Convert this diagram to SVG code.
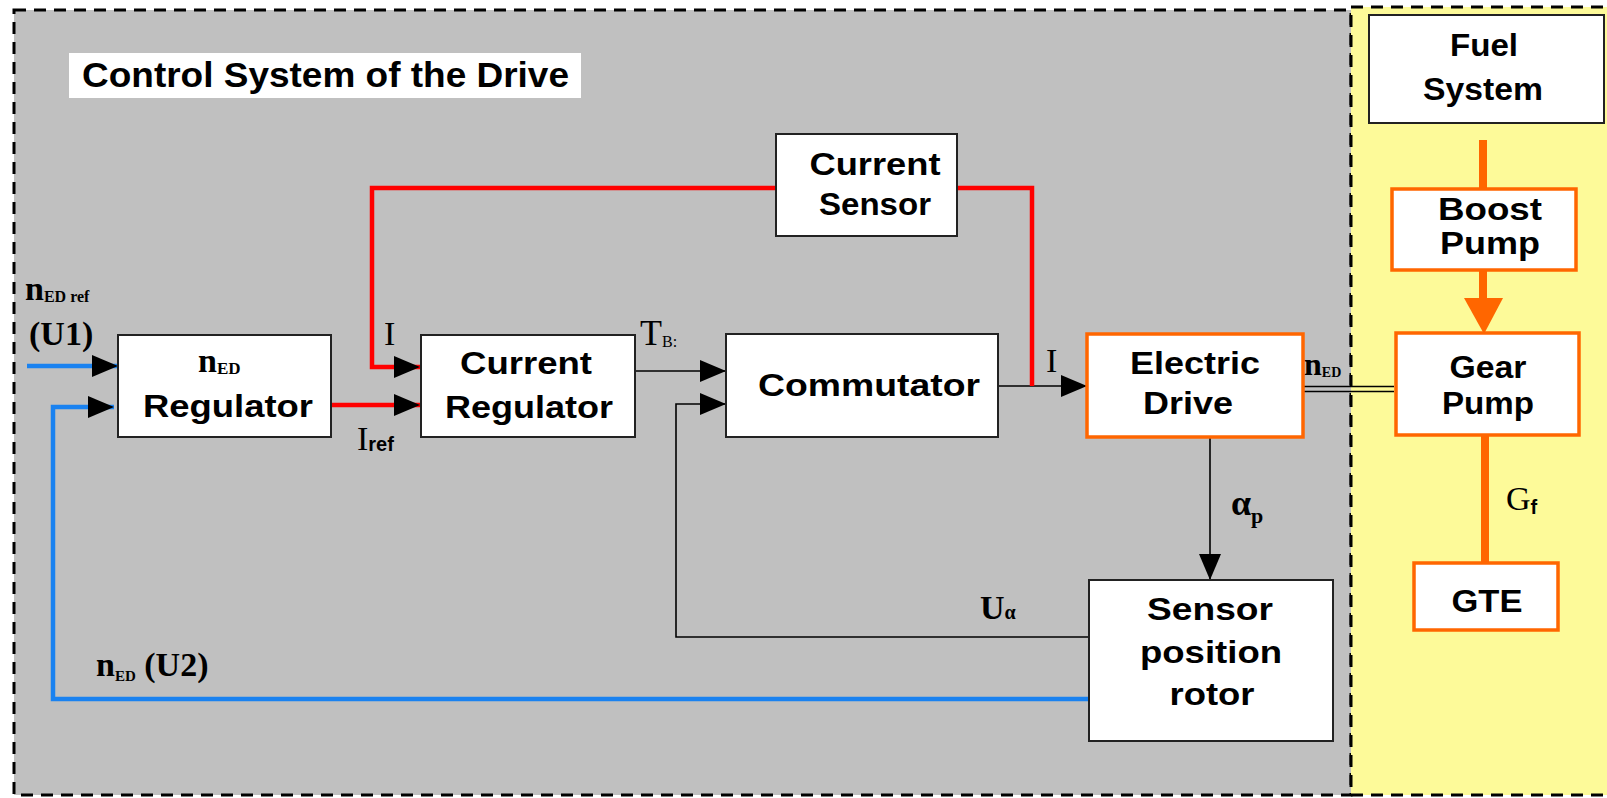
<svg xmlns="http://www.w3.org/2000/svg" width="1607" height="798" viewBox="0 0 1607 798">
<defs>
<style>
.box{fill:#fff;stroke:#222;stroke-width:2}
.obox{fill:#fff;stroke:#ff6600;stroke-width:3.5}
.lbl{font-family:"Liberation Sans",Arial,sans-serif;font-weight:bold;font-size:32px;fill:#000;text-anchor:middle}
.m{font-family:"Liberation Serif","Times New Roman",serif;fill:#000}
.blk{fill:none;stroke:#000;stroke-width:1.6}
.red{fill:none;stroke:#ff0000;stroke-width:4.5}
.blu{fill:none;stroke:#1a82f0;stroke-width:4.5}
.org{fill:none;stroke:#ff6600;stroke-width:8}
</style>
<marker id="ah" markerUnits="userSpaceOnUse" markerWidth="26" markerHeight="22" refX="26" refY="11" orient="auto">
<path d="M0,0 L26,11 L0,22 z" fill="#000"/>
</marker>
</defs>
<rect x="0" y="0" width="1607" height="798" fill="#fff"/>
<rect x="14" y="10" width="1337" height="785" fill="#c0c0c0" stroke="#000" stroke-width="3" stroke-dasharray="12,8"/>
<rect x="1351" y="7" width="262" height="788" fill="#fdfa99" stroke="#000" stroke-width="3" stroke-dasharray="12,8"/>

<g id="title">
<rect x="69" y="53" width="512" height="45" fill="#fff"/>
<text x="82" y="87" font-family="Liberation Sans,Arial,sans-serif" font-weight="bold" font-size="35" textLength="487" lengthAdjust="spacingAndGlyphs">Control System of the Drive</text>
</g>

<g id="connectors">
<path class="blu" d="M27,366 H118" marker-end="url(#ah)"/>
<path class="blu" d="M1089,699 H53 V407 H114" marker-end="url(#ah)"/>
<path class="red" d="M331,405 H420" marker-end="url(#ah)"/>
<path class="red" d="M776,188 H372 V367 H420" marker-end="url(#ah)"/>
<path class="blk" d="M635,371 H726" marker-end="url(#ah)"/>
<path class="blk" d="M1089,637 H676 V404 H726" marker-end="url(#ah)"/>
<path class="blk" d="M998,386 H1087" marker-end="url(#ah)"/>
<path class="red" d="M957,188 H1032 V386"/>
<path class="blk" d="M1210,437 V580" marker-end="url(#ah)"/>
<path class="blk" d="M1303,386.5 H1394 M1303,391.5 H1394" stroke-width="1.8"/>
<path class="org" d="M1483,140 V189"/>
<path class="org" d="M1483,270 V300"/>
<polygon points="1464,298 1503,298 1484,334" fill="#ff6600"/>
<path class="org" d="M1485,435 V563"/>
</g>

<g id="n-regulator">
<rect class="box" x="118" y="335" width="213" height="102"/>
<text class="m" x="198" y="372" font-size="34" font-weight="bold">n<tspan font-size="17" dy="2">ED</tspan></text>
<text class="lbl" x="228" y="417" textLength="170" lengthAdjust="spacingAndGlyphs">Regulator</text>
</g>

<g id="current-regulator">
<rect class="box" x="421" y="335" width="214" height="102"/>
<text class="lbl" x="526" y="374" textLength="132" lengthAdjust="spacingAndGlyphs">Current</text>
<text class="lbl" x="529" y="418" textLength="168" lengthAdjust="spacingAndGlyphs">Regulator</text>
</g>

<g id="commutator">
<rect class="box" x="726" y="334" width="272" height="103"/>
<text class="lbl" x="869" y="396" textLength="222" lengthAdjust="spacingAndGlyphs">Commutator</text>
</g>

<g id="current-sensor">
<rect class="box" x="776" y="134" width="181" height="102"/>
<text class="lbl" x="875" y="175" textLength="131" lengthAdjust="spacingAndGlyphs">Current</text>
<text class="lbl" x="875" y="215" textLength="112" lengthAdjust="spacingAndGlyphs">Sensor</text>
</g>

<g id="electric-drive">
<rect class="obox" x="1087" y="334" width="216" height="103"/>
<text class="lbl" x="1195" y="374" textLength="130" lengthAdjust="spacingAndGlyphs">Electric</text>
<text class="lbl" x="1188" y="414" textLength="90" lengthAdjust="spacingAndGlyphs">Drive</text>
</g>

<g id="sensor-position-rotor">
<rect class="box" x="1089" y="580" width="244" height="161"/>
<text class="lbl" x="1210" y="620" textLength="126" lengthAdjust="spacingAndGlyphs">Sensor</text>
<text class="lbl" x="1211" y="663" textLength="142" lengthAdjust="spacingAndGlyphs">position</text>
<text class="lbl" x="1212" y="705" textLength="85" lengthAdjust="spacingAndGlyphs">rotor</text>
</g>

<g id="fuel-system">
<rect class="box" x="1369" y="15" width="235" height="108"/>
<text class="lbl" x="1484" y="56" textLength="68" lengthAdjust="spacingAndGlyphs">Fuel</text>
<text class="lbl" x="1483" y="100" textLength="120" lengthAdjust="spacingAndGlyphs">System</text>
</g>

<g id="boost-pump">
<rect class="obox" x="1392" y="189" width="184" height="81"/>
<text class="lbl" x="1490" y="220" font-size="29" textLength="104" lengthAdjust="spacingAndGlyphs">Boost</text>
<text class="lbl" x="1490" y="254" font-size="29" textLength="100" lengthAdjust="spacingAndGlyphs">Pump</text>
</g>

<g id="gear-pump">
<rect class="obox" x="1396" y="333" width="183" height="102"/>
<text class="lbl" x="1488" y="378" textLength="77" lengthAdjust="spacingAndGlyphs">Gear</text>
<text class="lbl" x="1488" y="414" textLength="92" lengthAdjust="spacingAndGlyphs">Pump</text>
</g>

<g id="gte">
<rect class="obox" x="1414" y="563" width="144" height="67"/>
<text class="lbl" x="1487" y="612" textLength="71" lengthAdjust="spacingAndGlyphs">GTE</text>
</g>

<g id="labels">
<text class="m" x="25" y="300" font-size="34" font-weight="bold">n<tspan font-size="16" dy="2">ED ref</tspan></text>
<text class="m" x="29" y="345" font-size="34" font-weight="bold">(U1)</text>
<text class="m" x="384" y="345" font-size="34">I</text>
<text class="m" x="357" y="450" font-size="34">I<tspan font-family="Liberation Sans,Arial,sans-serif" font-weight="bold" font-size="20" dy="1">ref</tspan></text>
<text class="m" x="640" y="345" font-size="36">T<tspan font-size="16" dy="2">B:</tspan></text>
<text class="m" x="1046" y="372" font-size="34">I</text>
<text class="m" x="1304" y="375" font-size="32" font-weight="bold">n<tspan font-size="14" dy="2">ED</tspan></text>
<text class="m" x="1231" y="515" font-size="36" font-weight="bold">α<tspan font-size="22" dy="8">p</tspan></text>
<text class="m" x="980" y="619" font-size="34" font-weight="bold">U<tspan font-size="20" dy="0">α</tspan></text>
<text class="m" x="96" y="676" font-size="34" font-weight="bold">n<tspan font-size="15" dy="5">ED</tspan><tspan dy="-5"> (U2)</tspan></text>
<text class="m" x="1506" y="510" font-size="34">G<tspan font-family="Liberation Sans,Arial,sans-serif" font-weight="bold" font-size="20" dy="4">f</tspan></text>
</g>
</svg>
